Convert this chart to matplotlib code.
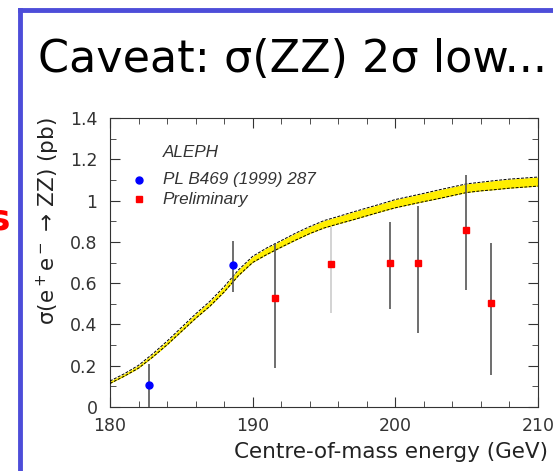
import numpy as np
import matplotlib
matplotlib.use("Agg")
import matplotlib.pyplot as plt
from matplotlib.ticker import MultipleLocator

# theory band (centre line and half width)
band_e = [180, 181, 182, 183, 184, 185, 186, 187, 188, 189, 190, 191, 192, 193, 194, 195,
          196, 197, 198, 199, 200, 201, 202, 203, 204, 205, 206, 207, 208, 209, 210]
band_mid = [0.12, 0.155, 0.195, 0.25, 0.31, 0.375, 0.44, 0.50, 0.57, 0.65, 0.715, 0.755, 0.79,
            0.825, 0.857, 0.885, 0.905, 0.925, 0.945, 0.965, 0.985, 1.0, 1.015, 1.03, 1.045,
            1.06, 1.068, 1.075, 1.082, 1.087, 1.092]
band_half = [0.006, 0.006, 0.007, 0.008, 0.009, 0.01, 0.011, 0.012, 0.013, 0.014, 0.015, 0.016,
             0.016, 0.017, 0.017, 0.018, 0.018, 0.019, 0.019, 0.019, 0.02, 0.02, 0.02, 0.021,
             0.021, 0.021, 0.021, 0.022, 0.022, 0.022, 0.022]

# published points (PL B469 (1999) 287)
pub_e = [182.7, 188.6]
pub_sig = [0.107, 0.688]
pub_lo = [0.0, 0.558]
pub_hi = [0.21, 0.806]

# preliminary points
pre_e = [191.6, 195.5, 199.6, 201.6, 204.95, 206.7]
pre_sig = [0.527, 0.691, 0.696, 0.696, 0.857, 0.505]
pre_lo = [0.19, 0.454, 0.475, 0.36, 0.567, 0.155]
pre_hi = [0.794, 0.873, 0.898, 0.974, 1.124, 0.793]
pre_errcol = ['#555555', '#cccccc', '#555555', '#555555', '#555555', '#555555']

W, H = 553, 471
fig = plt.figure(figsize=(W / 100, H / 100), dpi=100)
fig.patch.set_facecolor('white')

# slide frame
fig.add_artist(plt.Line2D([20 / W, 1.0], [1 - 10 / H, 1 - 10 / H], color='#4d4dd9', lw=3.5))
fig.add_artist(plt.Line2D([20 / W, 20 / W], [1 - 10 / H, 0.0], color='#4d4dd9', lw=3.5))

fig.text(38 / W, 1 - 60 / H, 'Caveat: σ(ZZ) 2σ low...', fontsize=32, ha='left', va='center',
         family='DejaVu Sans')
fig.text(10 / W, 1 - 220 / H, 's', fontsize=26, color='red', fontweight='bold',
         ha='right', va='center')

ax = fig.add_axes([110 / W, 1 - 407 / H, 428 / W, 289 / H])

be = np.array(band_e)
bm = np.array(band_mid)
bh = np.array(band_half)
ax.fill_between(be, bm - bh, bm + bh, color='#ffee00', lw=0, zorder=2)
ax.plot(be, bm - bh, color='black', lw=0.7, ls=(0, (3, 1.5)), zorder=3)
ax.plot(be, bm + bh, color='black', lw=0.7, ls=(0, (3, 1.5)), zorder=3)

ax.vlines(pub_e, pub_lo, pub_hi, color='#555555', lw=1.2, zorder=4)
ax.vlines(pre_e, pre_lo, pre_hi, colors=pre_errcol, lw=1.2, zorder=4)
ax.plot(pub_e, pub_sig, 'o', color='blue', ms=5, zorder=5)
ax.plot(pre_e, pre_sig, 's', color='red', ms=5, zorder=5)

ax.set_xlim(180, 210)
ax.set_ylim(0, 1.4)
ax.xaxis.set_major_locator(MultipleLocator(10))
ax.xaxis.set_minor_locator(MultipleLocator(2))
ax.yaxis.set_minor_locator(MultipleLocator(0.1))
ax.set_yticks([0, 0.2, 0.4, 0.6, 0.8, 1.0, 1.2, 1.4])
ax.set_yticklabels(['0', '0.2', '0.4', '0.6', '0.8', '1', '1.2', '1.4'])
ax.tick_params(which='both', direction='in', top=True, right=True, labelsize=12.5,
               colors='#333333')
ax.tick_params(which='major', length=7)
ax.tick_params(which='minor', length=4)
ax.tick_params(axis='x', pad=7)
ax.tick_params(axis='y', pad=9)
for s in ax.spines.values():
    s.set_color('#333333')

fig.text(548 / W, 1 - 452 / H, 'Centre-of-mass energy (GeV)', fontsize=15.5,
         ha='right', va='center', color='#222222')
fig.text(48 / W, 1 - 221 / H, 'σ(e$^+$e$^-$ → ZZ) (pb)', fontsize=15.5, rotation=90,
         ha='center', va='center', color='#222222')

# legend block
ax.text(183.7, 1.235, 'ALEPH', fontsize=12.3, style='italic', color='#333333', va='center',
        family='Liberation Sans')
ax.plot([182.0], [1.10], 'o', color='blue', ms=5)
ax.plot([182.0], [1.007], 's', color='red', ms=5)
ax.text(183.7, 1.10, 'PL B469 (1999) 287', fontsize=12.3, style='italic', color='#333333',
        va='center', family='Liberation Sans')
ax.text(183.7, 1.007, 'Preliminary', fontsize=12.3, style='italic', color='#333333',
        va='center', family='Liberation Sans')

fig.savefig('out.png', dpi=100)
